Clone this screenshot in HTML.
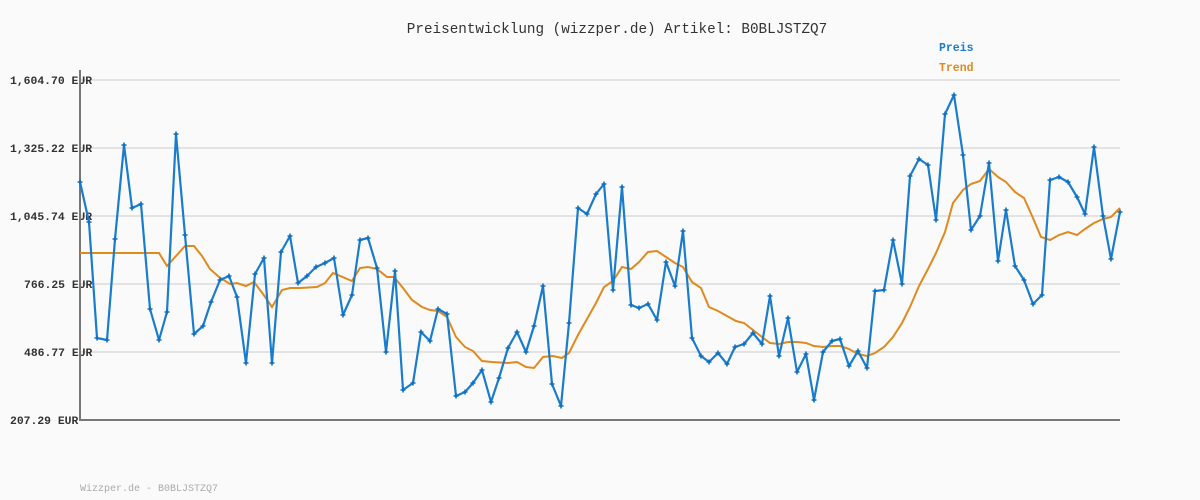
<!DOCTYPE html>
<html><head><meta charset="utf-8"><style>
html,body{margin:0;padding:0;background:#fafafa;}
svg{display:block;}
text{font-family:"Liberation Mono","DejaVu Sans Mono",monospace;}
</style></head><body>
<svg width="1200" height="500" viewBox="0 0 1200 500" xmlns="http://www.w3.org/2000/svg">
<defs>
<marker id="m" viewBox="-3 -3 6 6" markerWidth="6" markerHeight="6" markerUnits="userSpaceOnUse" refX="0" refY="0">
<path d="M-2.5,0H2.5M0,-2.5V2.5" stroke="#0f6fbf" stroke-width="1.6"/>
</marker>
</defs>
<rect width="1200" height="500" fill="#fafafa"/>
<text x="617" y="33" text-anchor="middle" font-size="14.3" fill="#333">Preisentwicklung (wizzper.de) Artikel: B0BLJSTZQ7</text>
<text x="939" y="51" font-size="11.5" font-weight="bold" fill="#1a7ccc">Preis</text>
<text x="939" y="71" font-size="11.5" font-weight="bold" fill="#e08a1e">Trend</text>
<g stroke="#e3e3e3" stroke-width="2">
<line x1="80" y1="80" x2="1120" y2="80"/><line x1="80" y1="148" x2="1120" y2="148"/>
<line x1="80" y1="216" x2="1120" y2="216"/><line x1="80" y1="284" x2="1120" y2="284"/>
<line x1="80" y1="352" x2="1120" y2="352"/>
</g>
<g font-size="11.4" font-weight="bold" fill="#333">
<text x="10" y="84">1,604.70 EUR</text><text x="10" y="152">1,325.22 EUR</text>
<text x="10" y="220">1,045.74 EUR</text><text x="24" y="288">766.25 EUR</text>
<text x="24" y="356">486.77 EUR</text><text x="10" y="424">207.29 EUR</text>
</g>
<line x1="80" y1="70" x2="80" y2="420" stroke="#777" stroke-width="2"/>
<line x1="79" y1="420" x2="1120" y2="420" stroke="#777" stroke-width="2"/>
<polyline fill="none" stroke="#e08a1e" stroke-width="2" points="80,253 159,253 167,266 185,246 194,246 202,256 210,269 219,277 230,284 237,283 246,286 254,282 263,294 272,307 282,290 290,288 300,288 317,287 325,283 333,273 352,281 360,268 368,267 377,269 387,277 394,277 403,288 412,300 422,307 430,310 438,311 447,317 456,337 465,347 473,351 482,361 492,362 508,363 517,362 526,367 534,368 543,357 553,356 562,358 569,353 578,335 587,319 596,303 604,287 613,281 622,267 631,269 639,262 648,252 657,251 666,257 675,263 683,267 692,282 701,288 709,307 718,311 727,316 736,321 744,323 753,330 762,337 770,343 779,344 788,342 797,342 806,343 814,346 823,347 832,346 840,346 849,349 858,354 867,356 875,353 884,347 893,337 902,323 910,307 919,286 928,269 936,253 945,232 953,203 963,190 971,184 980,181 989,169 998,177 1006,182 1015,192 1024,198 1033,218 1041,237 1050,240 1059,235 1068,232 1077,235 1085,229 1094,223 1103,219 1111,217 1120,208"/>
<polyline fill="none" stroke="#1a7ccc" stroke-width="2.2" stroke-linejoin="round" marker-start="url(#m)" marker-mid="url(#m)" marker-end="url(#m)" points="80,182 89,222 97,338 107,340 115,239 124,145 132,208 141,204 150,309 159,340 167,312 176,134 185,235 194,334 203,326 211,302 220,280 229,276 237,297 246,363 255,274 264,258 272,363 281,252 290,236 298,283 307,276 316,267 325,263 334,258 343,315 352,295 360,240 368,238 377,268 386,352 395,271 403,390 413,383 421,332 430,341 438,309 447,314 456,396 465,392 473,383 482,370 491,402 499,378 508,348 517,332 526,352 534,326 543,286 552,384 561,406 569,323 578,208 587,214 596,194 604,184 613,290 622,187 631,305 639,308 648,304 657,320 666,262 675,286 683,231 692,338 701,356 709,362 718,353 727,364 735,347 744,344 753,333 762,344 770,296 779,356 788,318 797,372 806,354 814,400 823,352 832,341 840,339 849,366 858,351 867,368 875,291 884,290 893,240 902,284 910,176 919,159 928,165 936,220 945,114 954,95 963,155 971,230 980,216 989,163 998,261 1006,210 1015,266 1024,280 1033,304 1042,295 1050,180 1059,177 1068,182 1077,197 1085,214 1094,147 1103,216 1111,259 1120,212"/>
<text x="80" y="491" font-size="10" fill="#aaa">Wizzper.de - B0BLJSTZQ7</text>
</svg>
</body></html>
